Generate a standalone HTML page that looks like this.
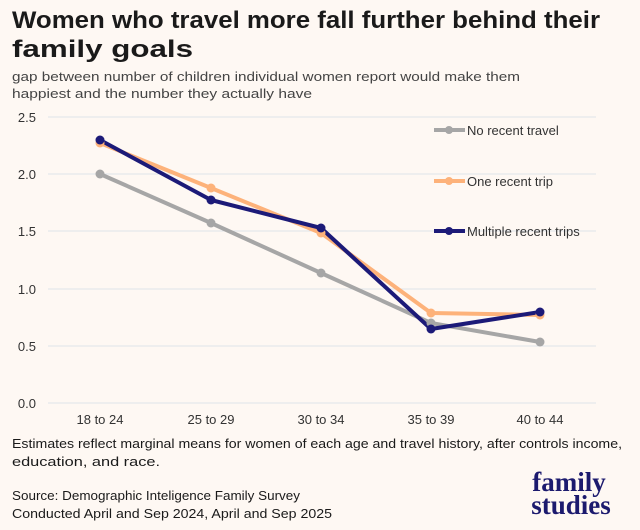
<!DOCTYPE html>
<html><head><meta charset="utf-8"><style>
body{margin:0;background:#fef8f3;}
svg{display:block;font-family:"Liberation Sans",sans-serif;}
</style></head><body>
<svg width="640" height="530" viewBox="0 0 640 530" xmlns="http://www.w3.org/2000/svg">
<rect width="640" height="530" fill="#fef8f3"/>
<text x="12" y="28" font-size="24" font-weight="bold" fill="#1a1a1a" textLength="588" lengthAdjust="spacingAndGlyphs">Women who travel more fall further behind their</text>
<text x="12" y="57" font-size="24" font-weight="bold" fill="#1a1a1a" textLength="181" lengthAdjust="spacingAndGlyphs">family goals</text>
<text x="12" y="81" font-size="13" fill="#444" textLength="508" lengthAdjust="spacingAndGlyphs">gap between number of children individual women report would make them</text>
<text x="12" y="98" font-size="13" fill="#444" textLength="300" lengthAdjust="spacingAndGlyphs">happiest and the number they actually have</text>
<g stroke="#dfe3ea" stroke-width="1">
<line x1="48" x2="596" y1="117" y2="117"/><line x1="48" x2="596" y1="174" y2="174"/>
<line x1="48" x2="596" y1="231" y2="231"/><line x1="48" x2="596" y1="289" y2="289"/>
<line x1="48" x2="596" y1="346" y2="346"/><line x1="48" x2="596" y1="403" y2="403"/>
</g>
<g font-size="13" fill="#333" text-anchor="end">
<text x="36" y="122">2.5</text><text x="36" y="179">2.0</text><text x="36" y="236">1.5</text>
<text x="36" y="294">1.0</text><text x="36" y="351">0.5</text><text x="36" y="408">0.0</text>
</g>
<g font-size="13" fill="#333" text-anchor="middle">
<text x="100" y="424">18 to 24</text><text x="211" y="424">25 to 29</text><text x="321" y="424">30 to 34</text>
<text x="431" y="424">35 to 39</text><text x="540" y="424">40 to 44</text>
</g>
<g fill="none" stroke-width="4" stroke-linejoin="round">
<polyline stroke="#a6a6a6" points="100,174 211,223 321,273 431,323 540,342"/>
<polyline stroke="#fdb27a" points="100,143 211,188 321,233 431,313 540,315"/>
<polyline stroke="#1c1a78" points="100,140 211,200 321,228 431,329 540,312"/>
</g>
<g fill="#a6a6a6"><circle cx="100" cy="174" r="4.5"/><circle cx="211" cy="223" r="4.5"/><circle cx="321" cy="273" r="4.5"/><circle cx="431" cy="323" r="4.5"/><circle cx="540" cy="342" r="4.5"/></g>
<g fill="#fdb27a"><circle cx="100" cy="143" r="4.5"/><circle cx="211" cy="188" r="4.5"/><circle cx="321" cy="233" r="4.5"/><circle cx="431" cy="313" r="4.5"/><circle cx="540" cy="315" r="4.5"/></g>
<g fill="#1c1a78"><circle cx="100" cy="140" r="4.5"/><circle cx="211" cy="200" r="4.5"/><circle cx="321" cy="228" r="4.5"/><circle cx="431" cy="329" r="4.5"/><circle cx="540" cy="312" r="4.5"/></g>
<g stroke-width="4">
<line x1="434" x2="465" y1="130" y2="130" stroke="#a6a6a6"/><circle cx="449" cy="130" r="4" fill="#a6a6a6"/>
<line x1="434" x2="465" y1="181" y2="181" stroke="#fdb27a"/><circle cx="449" cy="181" r="4" fill="#fdb27a"/>
<line x1="434" x2="465" y1="231" y2="231" stroke="#1c1a78"/><circle cx="449" cy="231" r="4" fill="#1c1a78"/>
</g>
<g font-size="13" fill="#333">
<text x="467" y="135">No recent travel</text><text x="467" y="186">One recent trip</text><text x="467" y="236">Multiple recent trips</text>
</g>
<g font-size="13" fill="#1a1a1a">
<text x="12" y="448" textLength="610" lengthAdjust="spacingAndGlyphs">Estimates reflect marginal means for women of each age and travel history,  after controls income,</text>
<text x="12" y="466" textLength="148" lengthAdjust="spacingAndGlyphs">education, and race.</text>
<text x="12" y="500" textLength="288" lengthAdjust="spacingAndGlyphs">Source: Demographic Inteligence Family Survey</text>
<text x="12" y="518" textLength="320" lengthAdjust="spacingAndGlyphs">Conducted April and Sep 2024, April and Sep 2025</text>
</g>
<g font-family="'Liberation Serif',serif" font-weight="bold" fill="#1c1a6e" font-size="27" text-anchor="middle">
<text x="569" y="491">family</text><text x="571" y="514">studies</text>
</g>
</svg>
</body></html>
